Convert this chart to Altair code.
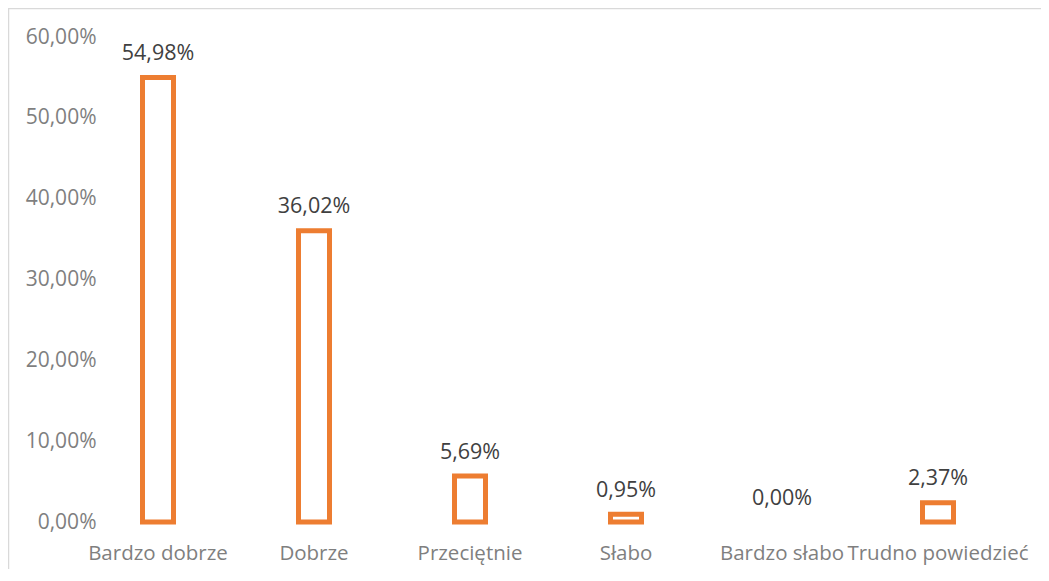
import altair as alt
import pandas as pd

categories = ["Bardzo dobrze", "Dobrze", "Przeciętnie", "Słabo", "Bardzo słabo", "Trudno powiedzieć"]
values = [0.5498, 0.3602, 0.0569, 0.0095, 0.0, 0.0237]
y_ticks = [0.0, 0.1, 0.2, 0.3, 0.4, 0.5, 0.6]

df = pd.DataFrame({"cat": categories, "val": values})

FONT = "Open Sans"
ORANGE = "#ED7D31"

x_enc = alt.X("cat:N", sort=categories, title=None,
              scale=alt.Scale(paddingInner=0, paddingOuter=0),
              axis=alt.Axis(labelAngle=0, labelFont=FONT, labelFontSize=20.5,
                            labelColor="#7f7f7f", labelPadding=21, labelBaseline="top",
                            labelOverlap=False, labelLimit=0, domain=False, ticks=False,
                            labelFlush=False))
y_enc = alt.Y("val:Q", title=None,
              scale=alt.Scale(domain=[0, 0.6], nice=False),
              axis=alt.Axis(values=y_ticks, grid=False, domain=False, ticks=False,
                            labelFont=FONT, labelFontSize=21, labelColor="#7f7f7f",
                            labelPadding=0, offset=-16,
                            labelExpr="replace(format(datum.value, '.2%'), '.', ',')"))

frame = alt.Chart(df).mark_rect(fill=None, stroke="#d9d9d9", strokeWidth=1.5).encode(
    x=alt.value(-71.5), x2=alt.value(2000), y=alt.value(-28.5), y2=alt.value(2000)
).transform_filter("datum.cat == 'Dobrze'")

bars = alt.Chart(df).transform_filter("datum.val > 0").mark_bar(
    fill="white", stroke=ORANGE, strokeWidth=5, size=31
).encode(x=x_enc, y=y_enc)

labels = alt.Chart(df).transform_calculate(
    lab="replace(format(datum.val, '.2%'), '.', ',')"
).mark_text(font=FONT, fontSize=21.5, color="#404040", baseline="alphabetic", dy=-17.5).encode(
    x=alt.X("cat:N", sort=categories), y=alt.Y("val:Q"), text="lab:N"
)

chart = alt.layer(frame, bars, labels).properties(
    width=936, height=485,
    background="white",
    autosize=alt.AutoSizeParams(type="none"),
    padding={"left": 72, "top": 29, "right": 25, "bottom": 47},
).configure_view(stroke="transparent", strokeWidth=0)

chart.save("out.html", embed_options={"renderer": "svg", "actions": False})
